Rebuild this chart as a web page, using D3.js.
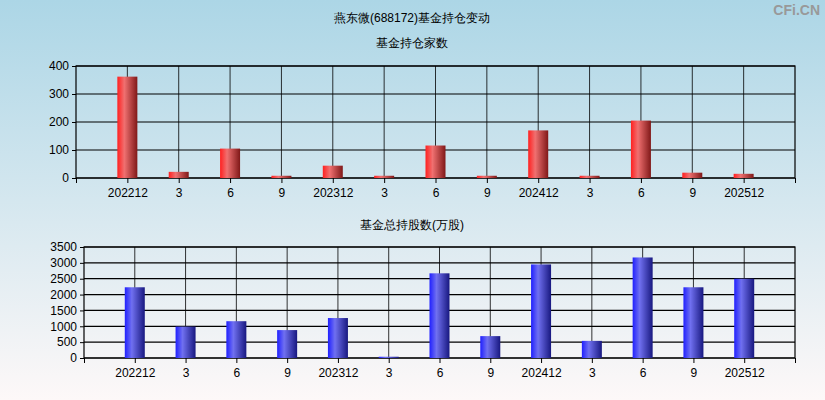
<!DOCTYPE html>
<html><head><meta charset="utf-8">
<script src="https://cdn.jsdelivr.net/npm/d3@7"></script>
<style>body{margin:0;}svg{display:block;font-family:"Liberation Sans",sans-serif;}</style>
</head><body><svg></svg>
<script>
const width = 825, height = 400;
const labels = ["202212","3","6","9","202312","3","6","9","202412","3","6","9","202512"];
const funds = [362, 22, 105, 8, 44, 8, 116, 8, 170, 8, 205, 19, 15];
const shares = [2230, 990, 1160, 880, 1260, 40, 2670, 690, 2950, 540, 3170, 2230, 2500];
const fundTicks = [0, 100, 200, 300, 400];
const shareTicks = [0, 500, 1000, 1500, 2000, 2500, 3000, 3500];

let svg = d3.select("svg").attr("width", width).attr("height", height);
let defs = svg.append("defs");
let bg = defs.append("linearGradient").attr("id", "bg").attr("x1", 0).attr("x2", 0).attr("y1", 0).attr("y2", 1);
bg.append("stop").attr("offset", "0%").attr("stop-color", "#acd6e6");
bg.append("stop").attr("offset", "100%").attr("stop-color", "#fdf8f8");
svg.append("rect").attr("width", width).attr("height", height).attr("fill", "url(#bg)");

function barGrad(id, c1, c2, c3) {
    let g = defs.append("linearGradient").attr("id", id);
    g.append("stop").attr("offset", "0%").attr("stop-color", c1);
    g.append("stop").attr("offset", "35%").attr("stop-color", c2);
    g.append("stop").attr("offset", "100%").attr("stop-color", c3);
}
barGrad("red", "#ff2020", "#f07070", "#801818");
barGrad("blue", "#2020ff", "#7070f0", "#181880");

svg.append("text").attr("x", 412).attr("y", 22).attr("text-anchor", "middle").attr("font-size", 12).text("燕东微(688172)基金持仓变动");
svg.append("text").attr("x", 820).attr("y", 15).attr("text-anchor", "end").attr("font-size", 14).attr("font-weight", "bold").attr("fill", "#999").text("CFi.CN");

function drawChart(values, ticks, x0, x1, y0, y1, title, titleY, fill) {
    const idx = labels.map((d, i) => i);
    const sx = d3.scaleLinear().domain([-1, 13]).range([x0, x1]);
    const sy = d3.scaleLinear().domain([0, ticks[ticks.length - 1]]).range([y1, y0]);
    const g = svg.append("g");
    g.append("text").attr("x", 412).attr("y", titleY).attr("text-anchor", "middle").attr("font-size", 12).text(title);
    g.selectAll(".vg").data(idx).enter().append("line")
        .attr("x1", d => sx(d)).attr("x2", d => sx(d)).attr("y1", y0).attr("y2", y1)
        .attr("stroke", "#000").attr("stroke-width", 0.8);
    g.selectAll(".hg").data(ticks).enter().append("line")
        .attr("x1", x0).attr("x2", x1).attr("y1", d => sy(d)).attr("y2", d => sy(d))
        .attr("stroke", "#000").attr("stroke-width", 1.2);
    g.append("rect").attr("x", x0).attr("y", y0).attr("width", x1 - x0).attr("height", y1 - y0)
        .attr("fill", "none").attr("stroke", "#000").attr("stroke-width", 1.2);
    const bw = 20;
    g.selectAll(".bar").data(values).enter().append("rect")
        .attr("x", (d, i) => sx(i) - bw / 2).attr("y", d => sy(d))
        .attr("width", bw).attr("height", d => y1 - sy(d)).attr("fill", fill);
    const ay = g.append("g").attr("transform", `translate(${x0},0)`)
        .call(d3.axisLeft(sy).tickValues(ticks).tickSize(4).tickFormat(d3.format("d")));
    ay.select(".domain").remove();
    ay.selectAll("text").attr("font-size", 12).attr("fill", "#000");
    const ax = g.append("g").attr("transform", `translate(0,${y1})`)
        .call(d3.axisBottom(sx).tickValues([-1].concat(idx, [13])).tickSize(5)
            .tickFormat(d => d >= 0 && d < 13 ? labels[d] : ""));
    ax.select(".domain").remove();
    ax.selectAll("text").attr("font-size", 12).attr("fill", "#000").attr("dy", "0.9em");
}

drawChart(funds, fundTicks, 76, 795, 66, 178, "基金持仓家数", 47, "url(#red)");
drawChart(shares, shareTicks, 84, 795, 247, 358, "基金总持股数(万股)", 229, "url(#blue)");
</script></body></html>
